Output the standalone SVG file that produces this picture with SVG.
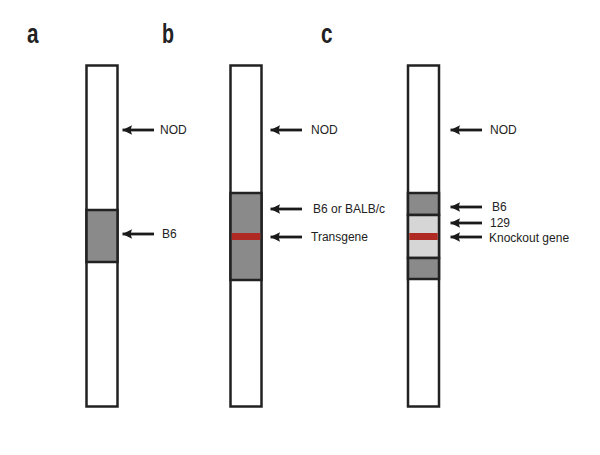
<svg xmlns="http://www.w3.org/2000/svg" width="600" height="455" viewBox="0 0 600 455">
<defs>
<marker id="ah" markerWidth="11" markerHeight="11" viewBox="0 0 11 11" refX="0" refY="5.5" orient="auto" markerUnits="userSpaceOnUse">
<path d="M0,5.5 L9.5,0.8 L8,5.5 L9.5,10.2 Z" fill="#1a1a1a"/>
</marker>
</defs>
<style>
.chr{fill:#fff;stroke:#222;stroke-width:2.5}
.band{stroke:#222;stroke-width:2.5}
.dk{fill:#8a8a8a}
.lt{fill:#d6d6d6}
.red{fill:#b02a24}
.arr{stroke:#1a1a1a;stroke-width:2.8;fill:none;marker-start:url(#ah)}
.lbl{font-family:"Liberation Sans",Arial,sans-serif;font-size:12px;fill:#222}
.pl{font-family:"Liberation Sans",Arial,sans-serif;font-weight:bold;font-size:28px;fill:#222}
</style>
<g id="panel-labels">
<text class="pl" x="27" y="43" textLength="11.5" lengthAdjust="spacingAndGlyphs">a</text>
<text class="pl" x="162" y="43" textLength="12" lengthAdjust="spacingAndGlyphs">b</text>
<text class="pl" x="321" y="43" textLength="11.5" lengthAdjust="spacingAndGlyphs">c</text>
</g>
<g id="chromosome-a">
<rect class="chr" x="86.5" y="65.5" width="31" height="341"/>
<rect class="band dk" x="86.5" y="210" width="31" height="52"/>
</g>
<g id="chromosome-b">
<rect class="chr" x="230.5" y="65.5" width="31" height="341"/>
<rect class="band dk" x="230.5" y="193" width="31" height="87"/>
<rect class="red" x="231.75" y="233" width="28.5" height="7"/>
</g>
<g id="chromosome-c">
<rect class="chr" x="408" y="65.5" width="31" height="341"/>
<rect class="band dk" x="408" y="193" width="31" height="22"/>
<rect class="band lt" x="408" y="215" width="31" height="43"/>
<rect class="band dk" x="408" y="258" width="31" height="21"/>
<rect class="red" x="409.25" y="233" width="28.5" height="7"/>
</g>
<g id="connectors">
<line class="arr" x1="122.5" y1="130" x2="154" y2="130"/>
<line class="arr" x1="122.5" y1="234" x2="154" y2="234"/>
<line class="arr" x1="270.5" y1="130" x2="302" y2="130"/>
<line class="arr" x1="270.5" y1="209" x2="302" y2="209"/>
<line class="arr" x1="270.5" y1="237" x2="302" y2="237"/>
<line class="arr" x1="450.5" y1="130" x2="482" y2="130"/>
<line class="arr" x1="450.5" y1="207" x2="482" y2="207"/>
<line class="arr" x1="450.5" y1="223" x2="482" y2="223"/>
<line class="arr" x1="450.5" y1="237" x2="482" y2="237"/>
</g>
<g id="labels">
<text class="lbl" x="160" y="134">NOD</text>
<text class="lbl" x="162" y="238">B6</text>
<text class="lbl" x="311" y="134">NOD</text>
<text class="lbl" x="313" y="213">B6 or BALB/c</text>
<text class="lbl" x="311" y="241">Transgene</text>
<text class="lbl" x="490" y="134">NOD</text>
<text class="lbl" x="492" y="211">B6</text>
<text class="lbl" x="490" y="227">129</text>
<text class="lbl" x="489" y="242">Knockout gene</text>
</g>
</svg>
